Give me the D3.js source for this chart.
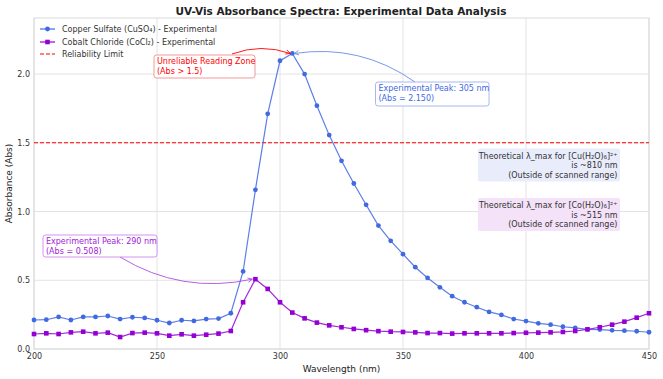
<!DOCTYPE html>
<html><head><meta charset="utf-8">
<script src="https://cdn.jsdelivr.net/npm/d3@7"></script>
<style>body{margin:0;background:#fff}text{font-family:"DejaVu Sans",sans-serif}</style>
</head><body>
<svg id="c" width="663" height="379"></svg>
<script>
const wavelengths = d3.range(200, 451, 5);
const copper = [0.211,0.213,0.233,0.211,0.233,0.233,0.240,0.218,0.231,0.226,
  0.209,0.189,0.209,0.204,0.218,0.221,0.260,0.564,1.158,1.711,
  2.097,2.150,2.000,1.770,1.556,1.369,1.204,1.049,0.898,0.787,
  0.690,0.595,0.517,0.449,0.384,0.340,0.304,0.270,0.248,0.218,
  0.203,0.187,0.177,0.162,0.153,0.143,0.141,0.136,0.133,0.129,0.122];
const cobalt = [0.109,0.114,0.109,0.121,0.126,0.114,0.119,0.087,0.116,0.119,
  0.114,0.097,0.107,0.097,0.104,0.112,0.131,0.340,0.508,0.437,
  0.340,0.265,0.223,0.192,0.172,0.158,0.146,0.137,0.130,0.126,
  0.124,0.121,0.116,0.116,0.112,0.114,0.114,0.114,0.114,0.116,
  0.118,0.119,0.121,0.124,0.131,0.143,0.158,0.177,0.199,0.228,0.260];
const xTicks = [200,250,300,350,400,450];
const yTicks = [0.0,0.5,1.0,1.5,2.0];
const reliabilityLimit = 1.5;
const seriesNames = ["Copper Sulfate (CuSO\u2084) - Experimental","Cobalt Chloride (CoCl\u2082) - Experimental","Reliability Limit"];

const svg = d3.select("#c");
const L=34,R=649,T=18,B=349;
const x = d3.scaleLinear().domain([200,450]).range([L,R]);
const y = d3.scaleLinear().domain([0,2.408]).range([B,T]);
const blue="#4169E1", purple="#9400D3";

// grid
const g = svg.append("g");
g.selectAll(".gx").data(xTicks).enter().append("line")
  .attr("x1",d=>x(d)).attr("x2",d=>x(d)).attr("y1",T).attr("y2",B)
  .attr("stroke","#e3e3e3").attr("stroke-width",1);
g.selectAll(".gy").data(yTicks).enter().append("line")
  .attr("x1",L).attr("x2",R).attr("y1",d=>y(d)).attr("y2",d=>y(d))
  .attr("stroke","#e3e3e3").attr("stroke-width",1);
svg.append("rect").attr("x",L).attr("y",T).attr("width",R-L).attr("height",B-T)
  .attr("fill","none").attr("stroke","#d9d9d9").attr("stroke-width",1);

// axes
const xa = svg.append("g").attr("transform",`translate(0,${B})`)
  .call(d3.axisBottom(x).tickValues(xTicks).tickSize(0).tickPadding(4).tickFormat(d3.format("d")));
const ya = svg.append("g").attr("transform",`translate(${L},0)`)
  .call(d3.axisLeft(y).tickValues(yTicks).tickSize(0).tickPadding(4).tickFormat(d3.format(".1f")));
[xa,ya].forEach(a=>{a.select(".domain").remove();a.selectAll("text").attr("font-size",8).attr("fill","#333").attr("font-family","DejaVu Sans");});

svg.append("text").attr("x",(L+R)/2).attr("y",372).attr("text-anchor","middle")
  .attr("font-size",9).attr("fill","#222").text("Wavelength (nm)");
svg.append("text").attr("transform",`translate(12,${(T+B)/2}) rotate(-90)`).attr("text-anchor","middle")
  .attr("font-size",9).attr("fill","#222").text("Absorbance (Abs)");
svg.append("text").attr("x",341).attr("y",15).attr("text-anchor","middle")
  .attr("font-size",10.5).attr("font-weight","bold").attr("fill","#222")
  .text("UV-Vis Absorbance Spectra: Experimental Data Analysis");

// reliability line
svg.append("line").attr("x1",L).attr("x2",R).attr("y1",y(reliabilityLimit)).attr("y2",y(reliabilityLimit))
  .attr("stroke","red").attr("stroke-width",1.1).attr("stroke-dasharray","4,2");

// series
const line = d3.line().x((d,i)=>x(wavelengths[i])).y(d=>y(d));
svg.append("path").datum(copper).attr("d",line).attr("fill","none").attr("stroke",blue).attr("stroke-width",1.2).attr("opacity",0.85);
svg.selectAll(".cm").data(copper).enter().append("circle")
  .attr("cx",(d,i)=>x(wavelengths[i])).attr("cy",d=>y(d)).attr("r",2.4).attr("fill",blue);
svg.append("path").datum(cobalt).attr("d",line).attr("fill","none").attr("stroke",purple).attr("stroke-width",1.2).attr("opacity",0.85);
svg.selectAll(".pm").data(cobalt).enter().append("rect")
  .attr("x",(d,i)=>x(wavelengths[i])-2.3).attr("y",d=>y(d)-2.3).attr("width",4.6).attr("height",4.6).attr("fill",purple);

// legend
const lg = svg.append("g");
const lgY=[29,42,54];
seriesNames.forEach((n,i)=>{
  const c=[blue,purple,"red"][i];
  lg.append("line").attr("x1",40).attr("x2",55).attr("y1",lgY[i]).attr("y2",lgY[i]).attr("stroke",c).attr("stroke-width",1.2)
    .attr("stroke-dasharray",i==2?"4,2":null);
  if(i==0) lg.append("circle").attr("cx",47.5).attr("cy",lgY[i]).attr("r",2.4).attr("fill",c);
  if(i==1) lg.append("rect").attr("x",45.2).attr("y",lgY[i]-2.3).attr("width",4.6).attr("height",4.6).attr("fill",c);
  lg.append("text").attr("x",62).attr("y",lgY[i]+3).attr("font-size",8).attr("fill","#333").text(n);
});

// arrows
function arc(x1,y1,x2,y2,rad){
  const mx=(x1+x2)/2,my=(y1+y2)/2,dx=x2-x1,dy=y2-y1;
  const cx=mx+rad*dy, cy=my-rad*dx;
  return {d:`M${x1},${y1}Q${cx},${cy} ${x2},${y2}`,cx,cy};
}
function arrow(x1,y1,x2,y2,rad,color){
  const a=arc(x1,y1,x2,y2,rad);
  svg.append("path").attr("d",a.d).attr("fill","none").attr("stroke",color).attr("stroke-width",0.9);
  const ang=Math.atan2(y2-a.cy,x2-a.cx), h=5, w=0.45;
  svg.append("path").attr("d",`M${x2-h*Math.cos(ang-w)},${y2-h*Math.sin(ang-w)}L${x2},${y2}L${x2-h*Math.cos(ang+w)},${y2-h*Math.sin(ang+w)}`)
    .attr("fill","none").attr("stroke",color).attr("stroke-width",0.9);
}
const pk1x=x(305),pk1y=y(2.150), pk2x=x(290),pk2y=y(0.508);
arrow(232,54,pk1x-2,pk1y,0.18,"red");
arrow(415,82,pk1x+2,pk1y,-0.2,"#6a8be8");
arrow(120,257,pk2x-3,pk2y,-0.2,"#b04ee0");

function box(x0,y0,w,h,lines,color,bg,border){
  svg.append("rect").attr("x",x0).attr("y",y0).attr("width",w).attr("height",h).attr("rx",2.5)
    .attr("fill",bg).attr("stroke",border||"none").attr("stroke-width",0.8);
  lines.forEach((t,i)=>svg.append("text").attr("x",x0+3).attr("y",y0+9+i*10).attr("font-size",8).attr("fill",color).text(t));
}
box(154,55,101,23,["Unreliable Reading Zone","(Abs > 1.5)"],"red","#fff","#f08080");
box(375.5,82,113.5,24,["Experimental Peak: 305 nm","(Abs = 2.150)"],blue,"#fff","#8fa6ee");
box(43,235,114,22,["Experimental Peak: 290 nm","(Abs = 0.508)"],"#a020d8","#fff","#c878e8");

function rbox(y0,lines,bg){
  svg.append("rect").attr("x",478).attr("y",y0).attr("width",142).attr("height",33).attr("rx",2).attr("fill",bg);
  lines.forEach((t,i)=>svg.append("text").attr("x",617.5).attr("y",y0+10+i*9.6).attr("text-anchor","end")
    .attr("font-size",8).attr("fill","#333").text(t));
}
rbox(148.5,["Theoretical \u03bb_max for [Cu(H\u2082O)\u2086]\u00b2\u207a","is ~810 nm","(Outside of scanned range)"],"#e9edfb");
rbox(198,["Theoretical \u03bb_max for [Co(H\u2082O)\u2086]\u00b2\u207a","is ~515 nm","(Outside of scanned range)"],"#f3e2f8");
</script>
</body></html>
